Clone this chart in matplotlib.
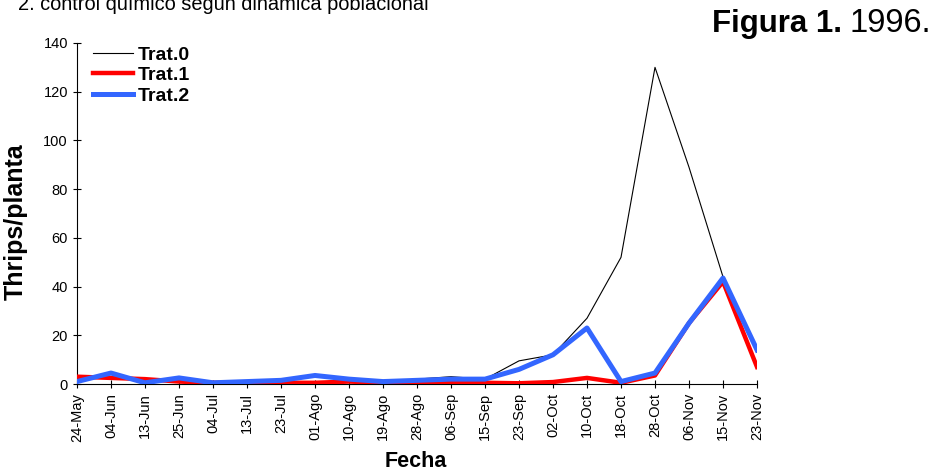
import matplotlib
matplotlib.use("Agg")
import matplotlib.pyplot as plt

plt.rcParams['font.family'] = ['Liberation Sans', 'DejaVu Sans']

fechas = ["24-May", "04-Jun", "13-Jun", "25-Jun", "04-Jul", "13-Jul", "23-Jul",
          "01-Ago", "10-Ago", "19-Ago", "28-Ago", "06-Sep", "15-Sep", "23-Sep",
          "02-Oct", "10-Oct", "18-Oct", "28-Oct", "06-Nov", "15-Nov", "23-Nov"]
trat0 = [2, 3, 1, 2, 0.5, 1, 1.5, 3.5, 2, 1, 2, 3, 2, 9.5, 12, 27, 52, 130, 89, 44, 13]
trat1 = [3, 2.5, 2, 1, 0.5, 0.5, 0.5, 0.5, 1, 0.5, 0.5, 0.5, 0.5, 0.3, 0.8, 2.5, 0.5, 3.5, 25, 42, 7]
trat2 = [1, 4.5, 0.5, 2.5, 0.5, 1, 1.5, 3.5, 2, 1, 1.5, 2, 2, 6, 12, 23, 1, 4.5, 25, 43.5, 14]
yticks = [0, 20, 40, 60, 80, 100, 120, 140]

W, H = 932, 473
fig = plt.figure(figsize=(W / 100, H / 100), dpi=100)
ax = fig.add_axes([77 / W, 1 - 384 / H, 680 / W, 341 / H])
x = list(range(len(fechas)))
ax.plot(x, trat0, color='black', lw=0.8, label='Trat.0', zorder=3)
ax.plot(x, trat1, color='#FF0000', lw=3.2, label='Trat.1', zorder=4)
ax.plot(x, trat2, color='#3366FF', lw=3.6, label='Trat.2', zorder=5)

ax.set_xlim(0, len(fechas) - 1)
ax.set_ylim(0, 140)
ax.set_yticks(yticks)
ax.set_xticks(x)
ax.set_xticklabels(fechas, rotation=90, fontsize=10.5)
ax.tick_params(axis='y', labelsize=10.5, direction='inout', length=6)
ax.tick_params(axis='x', direction='inout', length=6)
for s in ['top', 'right']:
    ax.spines[s].set_visible(False)

ax.set_ylabel('Thrips/planta', fontsize=18, fontweight='bold')
ax.yaxis.set_label_coords((28 - 77) / 680, (384 - 221.5) / 341)
ax.set_xlabel('Fecha', fontsize=15.5, fontweight='bold')
ax.xaxis.label.set_va('baseline')
ax.xaxis.set_label_coords((416 - 77) / 680, (384 - 467) / 341)

ax.legend(loc='upper left', bbox_to_anchor=((93 - 77) / 680, 1.0 - 3 / 341), frameon=False,
          prop={'weight': 'bold', 'size': 14}, handlelength=2.05,
          handletextpad=0.25, labelspacing=0.15, borderaxespad=0, borderpad=0)

fig.text(18 / W, 1 - 10 / H, '2. control químico según dinámica poblacional',
         fontsize=14.4, ha='left', va='baseline')
fig.text(712 / W, 1 - 32 / H, 'Figura 1.', fontsize=22.5, fontweight='bold',
         ha='left', va='baseline')
fig.text(849 / W, 1 - 32 / H, '1996.', fontsize=23.5, ha='left', va='baseline')

fig.savefig('out.png', dpi=100)
